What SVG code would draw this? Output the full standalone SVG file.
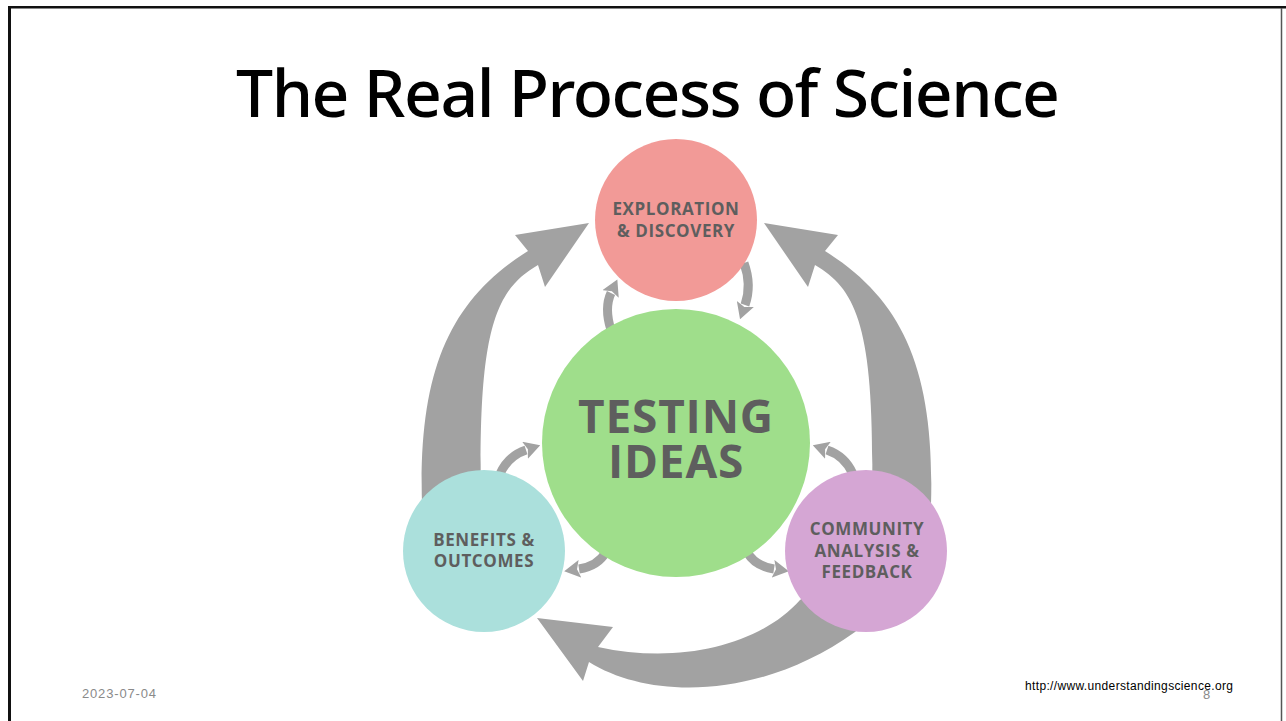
<svg xmlns="http://www.w3.org/2000/svg" width="1286" height="721" viewBox="0 0 1286 721">
  <style>
    .big { fill: #a2a2a2; }
    .small { fill: none; stroke: #a2a2a2; stroke-width: 9; marker-end: url(#head); }
    .lbl { font-family: "Open Sans", "Noto Sans", sans-serif; font-weight: 700; fill: #5e5e5e; text-anchor: middle; font-size: 17px; letter-spacing: 0.6px; }
    .big-lbl { font-size: 46px; letter-spacing: 0.8px; }
    .foot { font-family: "Liberation Sans", Arial, sans-serif; }
  </style>
  <defs>
    <marker id="head" viewBox="0 0 16 18" refX="1" refY="9" markerWidth="16" markerHeight="18" markerUnits="userSpaceOnUse" orient="auto">
      <path d="M0,0 L16,9 L0,18 L3,9 Z" fill="#a2a2a2"/>
    </marker>
  </defs>
  <rect width="1286" height="721" fill="#ffffff"/>
  <!-- slide frame -->
  <rect x="8" y="6" width="1278" height="2.5" fill="#111"/>
  <rect x="8" y="6" width="3" height="715" fill="#111"/>
  <line x1="1281.5" y1="8" x2="1281.5" y2="721" stroke="#555" stroke-width="1.5"/>

  <text x="648" y="117" font-family="'Noto Sans', 'Open Sans', sans-serif" font-weight="500" font-size="66" fill="#000" text-anchor="middle" textLength="824" lengthAdjust="spacing">The Real Process of Science</text>

  <g id="connectors">
    <path id="arc-left" class="big" d="M422,505 C418,370 450,300 528,251 L515,235 L589,223 L545,287 L538,265 C495,290 478,330 481,500 Z"/>
    <path id="arc-right" class="big" transform="translate(1353,0) scale(-1,1)" d="M422,505 C418,370 450,300 528,251 L515,235 L589,223 L545,287 L538,265 C495,290 478,330 481,500 Z"/>
    <path id="arc-bottom" class="big" d="M589,662 C650,700 760,700 855,632 L890,600 L840,570 L800,600 C760,645 680,665 598,647 L613,627 L537,618 L583,681 Z"/>
    <path class="small" d="M611,330 Q604,308 611,293"/>
    <path class="small" d="M744,263 Q752,285 745,305"/>
    <path class="small" d="M500,474 Q508,456 526,450"/>
    <path class="small" d="M606,552 Q598,566 579,569"/>
    <path class="small" d="M747,552 Q755,566 774,569"/>
    <path class="small" d="M853,474 Q845,456 827,450"/>
  </g>

  <g id="node-exploration">
    <circle cx="676" cy="220" r="81" fill="#F29A97"/>
    <text class="lbl" x="676" y="215">EXPLORATION</text>
    <text class="lbl" x="676" y="237">&amp; DISCOVERY</text>
  </g>
  <g id="node-testing">
    <circle cx="676" cy="443" r="134" fill="#9FDE8B"/>
    <text class="lbl big-lbl" x="676" y="433">TESTING</text>
    <text class="lbl big-lbl" x="676" y="478">IDEAS</text>
  </g>
  <g id="node-benefits">
    <circle cx="484" cy="551" r="81" fill="#ABE0DC"/>
    <text class="lbl" x="484" y="546">BENEFITS &amp;</text>
    <text class="lbl" x="484" y="567">OUTCOMES</text>
  </g>
  <g id="node-community">
    <circle cx="866" cy="551" r="81" fill="#D5A6D4"/>
    <text class="lbl" x="867" y="535">COMMUNITY</text>
    <text class="lbl" x="867" y="557">ANALYSIS &amp;</text>
    <text class="lbl" x="867" y="578">FEEDBACK</text>
  </g>

  <text class="foot" x="82" y="698" font-size="13" fill="#8a8a8a" textLength="74">2023-07-04</text>
  <text class="foot" x="1203" y="699" font-size="13" fill="#8a8a8a">8</text>
  <text class="foot" x="1025" y="690" font-size="12" fill="#000" textLength="208">http://www.understandingscience.org</text>
</svg>
